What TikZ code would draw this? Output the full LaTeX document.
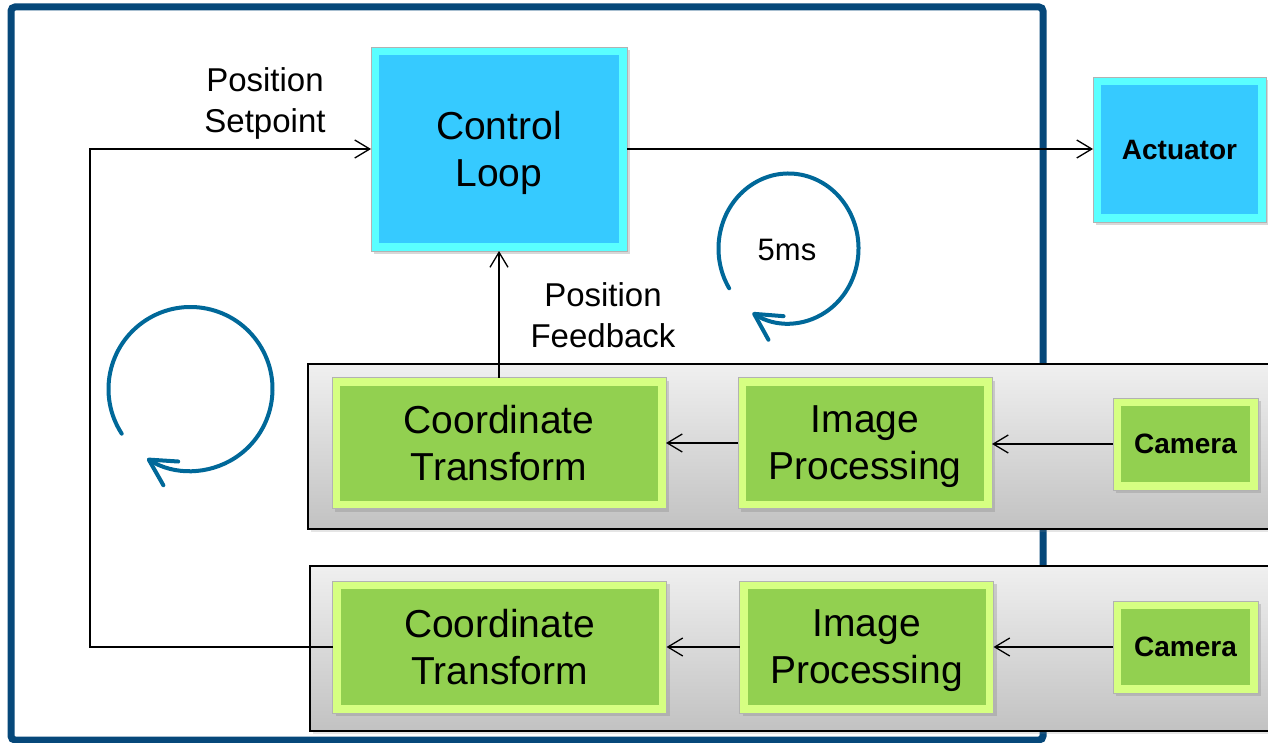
\documentclass[tikz,border=0pt]{standalone}
\usepackage{fontspec}
\setmainfont{Liberation Sans}
\usetikzlibrary{arrows.meta,shadows}
\definecolor{frameblue}{RGB}{6,72,122}
\definecolor{cycblue}{RGB}{0,104,153}
\definecolor{bluefill}{RGB}{54,202,255}
\definecolor{bluebevel}{RGB}{90,255,255}
\definecolor{greenfill}{RGB}{146,208,80}
\definecolor{greenbevel}{RGB}{214,255,130}
\tikzset{
  blockbase/.style={rectangle, inner sep=0pt, outer sep=0pt, draw=black!30, line width=0.4pt, align=center,
    drop shadow={opacity=0.3, shadow xshift=1.5pt, shadow yshift=-1.5pt}},
  blueblock/.style={blockbase, fill=bluebevel,
    path picture={\fill[bluefill] ([shift={(4pt,-4pt)}]path picture bounding box.north west) rectangle ([shift={(-4pt,4pt)}]path picture bounding box.south east);}},
  greenblock/.style={blockbase, fill=greenbevel,
    path picture={\fill[greenfill] ([shift={(4pt,-4pt)}]path picture bounding box.north west) rectangle ([shift={(-4pt,4pt)}]path picture bounding box.south east);}},
  bigtext/.style={font=\fontsize{19.5}{23.5}\selectfont, text depth=0pt},
  smalltext/.style={font=\fontsize{14}{17}\selectfont\bfseries, text depth=0pt},
  lbl/.style={font=\fontsize{16.5}{20.5}\selectfont, align=center, inner sep=0pt, text depth=0pt},
  panel/.style={rectangle, draw=black, line width=0.75pt, top color=black!6, bottom color=black!24,
    inner sep=0pt, outer sep=0pt, drop shadow={opacity=0.2, shadow xshift=1.5pt, shadow yshift=-1.5pt}},
  conn/.style={line width=0.65pt, -{Straight Barb[length=7.5pt,width=9pt]}},
  cyc/.style={draw=cycblue, line width=2pt, line cap=round, -{Straight Barb[length=13pt,width=14pt,round]}},
}
\begin{document}
\begin{tikzpicture}[x=0.5pt, y=-0.5pt]
\useasboundingbox (0,0) rectangle (1268,743);
\clip (0,0) rectangle (1268,743);
\fill[white] (0,0) rectangle (1268,743);
% outer frame
\draw[frameblue, line width=3.5pt, rounded corners=2pt] (11,7) rectangle (1043,740);
% panels
\node[panel, minimum width=486pt, minimum height=82.5pt] (panel1) at (794,446.5) {};
\node[panel, minimum width=485pt, minimum height=82.5pt] (panel2) at (795,648.5) {};
% blocks
\node[blueblock, bigtext, minimum width=128pt, minimum height=102pt] (ctrl) at (499,149) {Control\\Loop};
\node[blueblock, smalltext, minimum width=86.5pt, minimum height=72.5pt] (act) at (1179.5,149.5) {Actuator};
\node[greenblock, bigtext, minimum width=167pt, minimum height=65.5pt] (ct1) at (499,443) {Coordinate\\Transform};
\node[greenblock, bigtext, minimum width=127pt, minimum height=65.5pt] (ip1) at (865,443) {Image\\Processing};
\node[greenblock, smalltext, minimum width=72.5pt, minimum height=46pt] (cam1) at (1185.5,444) {Camera};
\node[greenblock, bigtext, minimum width=167pt, minimum height=66pt] (ct2) at (499.5,647) {Coordinate\\Transform};
\node[greenblock, bigtext, minimum width=127pt, minimum height=66pt] (ip2) at (866.5,647) {Image\\Processing};
\node[greenblock, smalltext, minimum width=72.5pt, minimum height=46pt] (cam2) at (1185.5,647) {Camera};
% labels
\node[lbl] (setpt) at (265,100) {Position\\Setpoint};
\node[lbl] (fdbk) at (603,315) {Position\\Feedback};
\node[font=\fontsize{15.5}{18}\selectfont, inner sep=0pt, text depth=0pt] (ms) at (787,250) {5ms};
% connectors
\coordinate (loopcorner) at (90,647);
\draw[conn] (ct2.west) -- (loopcorner) |- (ctrl.west);
\draw[conn] (ctrl.east) -- (ctrl.east -| act.west);
\draw[conn] (ct1.north) -- (ctrl.south);
\draw[conn] (ip1.west) -- (ip1.west -| ct1.east);
\draw[conn] (cam1.west) -- (cam1.west -| ip1.east);
\draw[conn] (ip2.west) -- (ip2.west -| ct2.east);
\draw[conn] (cam2.west) -- (cam2.west -| ip2.east);
% cycle arrows
\coordinate (cycfive) at (788.5,248.5);
\draw[cyc] (cycfive) ++(148:70 and 75) arc[start angle=148, end angle=481, x radius=70, y radius=75];
\coordinate (cycleft) at (190.5,389);
\draw[cyc] (cycleft) ++(147:82 and 82) arc[start angle=147, end angle=482, x radius=82, y radius=82];
\end{tikzpicture}
\end{document}
